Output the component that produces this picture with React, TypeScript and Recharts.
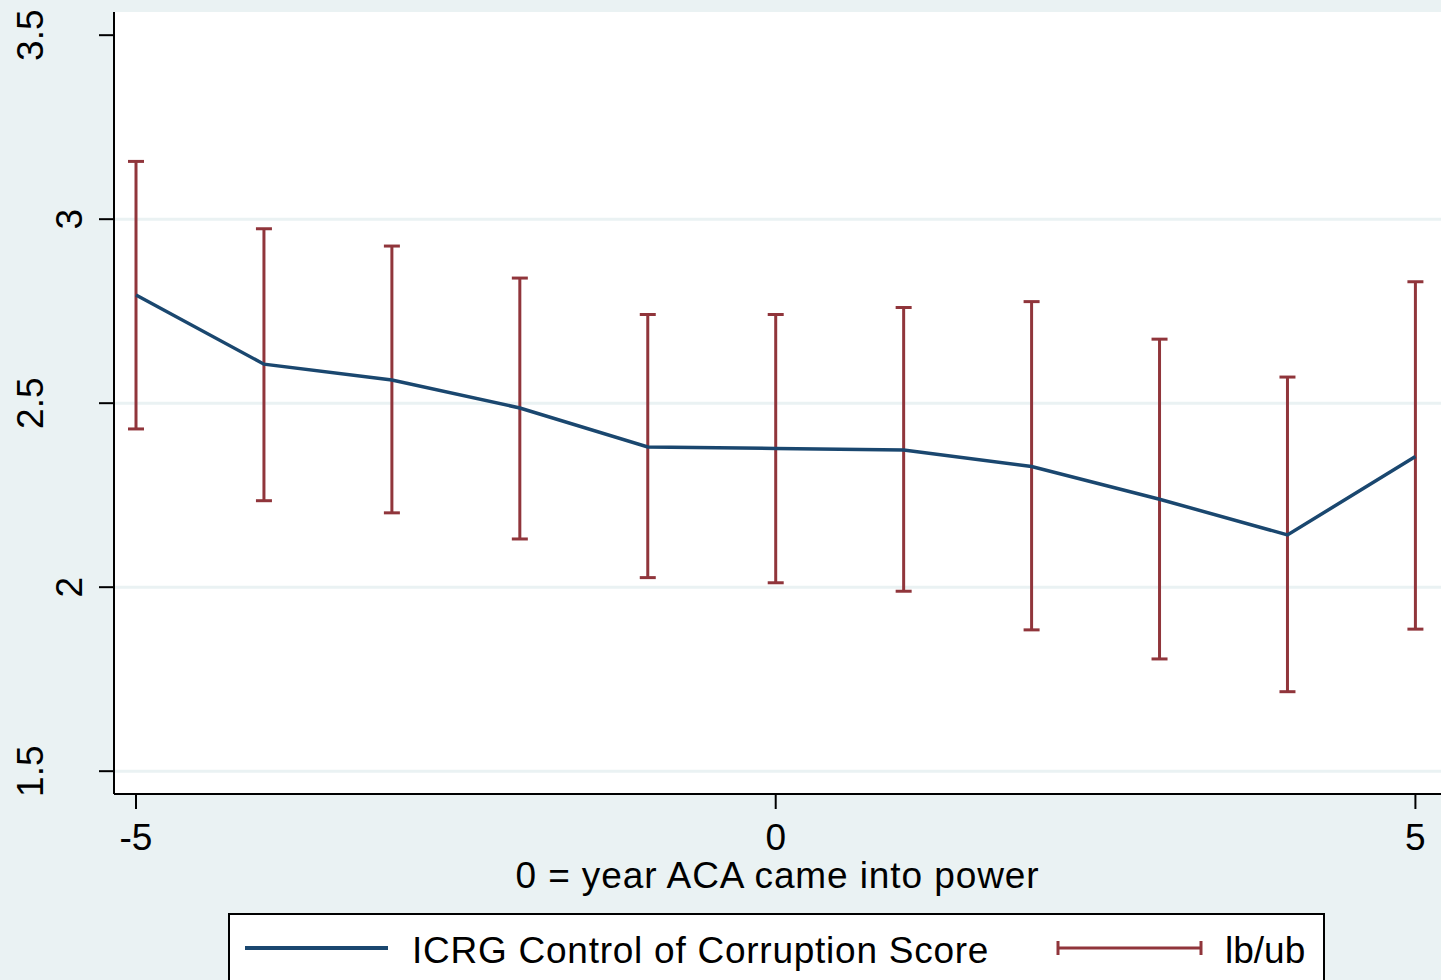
import React from 'react';
import { ComposedChart, Line, ErrorBar, XAxis, YAxis, ReferenceLine, CartesianGrid, Legend, Label } from 'recharts';

const years = [-5, -4, -3, -2, -1, 0, 1, 2, 3, 4, 5];
const score = [2.794, 2.606, 2.563, 2.487, 2.381, 2.377, 2.373, 2.328, 2.239, 2.142, 2.355];
const lowerBound = [2.43, 2.235, 2.202, 2.131, 2.026, 2.012, 1.989, 1.884, 1.805, 1.716, 1.886];
const upperBound = [3.157, 2.974, 2.927, 2.84, 2.741, 2.741, 2.76, 2.776, 2.674, 2.571, 2.83];
const yTicks = [1.5, 2, 2.5, 3, 3.5];
const gridValues = [1.5, 2, 2.5, 3];
const xTicks = [-5, 0, 5];

const NAVY = '#1a476f';
const MAROON = '#90353b';
const BG = '#eaf2f3';
const FONT = '"Liberation Sans", Arial, Helvetica, sans-serif';

// error bar offsets are relative to the line value
const chartData = years.map((yr, i) => ({
  year: yr,
  score: score[i],
  band: [score[i] - lowerBound[i], upperBound[i] - score[i]],
}));

const YTick = ({ y, payload }: any) => {
  const s = String(payload.value);
  const bx = s.length > 1 ? 43 : 82;
  return (
    <text transform={`translate(${bx},${y}) rotate(-90)`} textAnchor="middle" fontSize={37} fill="#000" fontFamily={FONT}>
      {s}
    </text>
  );
};

const LegendBox = () => (
  <svg width={1097} height={70} style={{ display: 'block' }}>
    <rect x={1} y={1} width={1095} height={80} fill="#fff" stroke="#000" strokeWidth={2} />
    <line x1={17} y1={35} x2={160} y2={35} stroke={NAVY} strokeWidth={4} />
    <text x={184} y={50} fontSize={37} letterSpacing={0.75} fontFamily={FONT} fill="#000">
      ICRG Control of Corruption Score
    </text>
    <line x1={829} y1={35} x2={974} y2={35} stroke={MAROON} strokeWidth={3} />
    <line x1={830} y1={28} x2={830} y2={42} stroke={MAROON} strokeWidth={3} />
    <line x1={973} y1={28} x2={973} y2={42} stroke={MAROON} strokeWidth={3} />
    <text x={997} y={50} fontSize={37} fontFamily={FONT} fill="#000">lb/ub</text>
  </svg>
);

export default function App() {
  return (
    <div style={{ position: 'absolute', left: 0, top: 0, width: 1441, height: 980, background: BG, overflow: 'hidden', fontFamily: FONT }}>
      <ComposedChart width={1441} height={980} data={chartData} margin={{ top: 12, right: 0, bottom: 0, left: 0 }}>
        <CartesianGrid fill="#fff" stroke="none" horizontal={false} vertical={false} />
        {gridValues.map((v) => (
          <ReferenceLine key={v} y={v} stroke={BG} strokeWidth={3} />
        ))}
        <XAxis
          dataKey="year"
          type="number"
          domain={[-5.172, 5.2]}
          ticks={xTicks}
          height={186}
          axisLine={{ stroke: '#000', strokeWidth: 2 }}
          tickLine={{ stroke: '#000', strokeWidth: 2 }}
          tickSize={15}
          tickMargin={15}
          tick={{ fontSize: 37, fill: '#000', fontFamily: FONT }}
        >
          <Label
            value="0 = year ACA came into power"
            position="insideTop"
            offset={68}
            fontSize={37}
            letterSpacing={0.9}
            fill="#000"
            fontFamily={FONT}
          />
        </XAxis>
        <YAxis
          type="number"
          domain={[1.438, 3.563]}
          ticks={yTicks}
          width={114}
          axisLine={{ stroke: '#000', strokeWidth: 2 }}
          tickLine={{ stroke: '#000', strokeWidth: 2 }}
          tickSize={15}
          tick={<YTick />}
        />
        <Line
          dataKey="score"
          stroke={NAVY}
          strokeWidth={3.5}
          dot={false}
          activeDot={false}
          isAnimationActive={false}
        >
          <ErrorBar dataKey="band" width={8} stroke={MAROON} strokeWidth={3} direction="y" isAnimationActive={false} />
        </Line>
        <Legend
          layout="horizontal"
          verticalAlign="middle"
          align="center"
          wrapperStyle={{ left: 228, top: 913, width: 1097, height: 70 }}
          content={() => <LegendBox />}
        />
      </ComposedChart>
    </div>
  );
}
